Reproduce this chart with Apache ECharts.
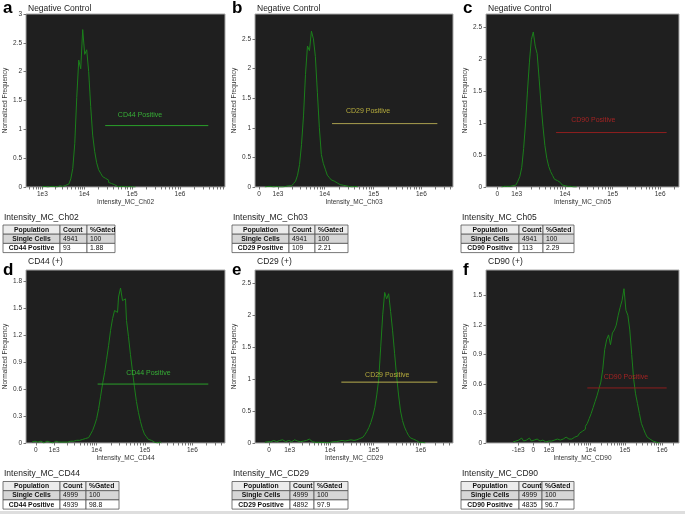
<!DOCTYPE html>
<html><head><meta charset="utf-8">
<script src="https://cdn.jsdelivr.net/npm/echarts@6/dist/echarts.min.js"></script>
<style>html,body{margin:0;padding:0;background:#fff}#c{width:685px;height:514px}</style>
</head><body><div id="c"></div>
<script>
// ---------------- DATA ----------------
const panelLetters = ['a','b','c','d','e','f'];
const panelTitles = ['Negative Control','Negative Control','Negative Control','CD44 (+)','CD29 (+)','CD90 (+)'];
const xAxisNames = ['Intensity_MC_Ch02','Intensity_MC_Ch03','Intensity_MC_Ch05','Intensity_MC_CD44','Intensity_MC_CD29','Intensity_MC_CD90'];

// x axis: display position (% of axis width) of each labelled tick
const xTickPosA = [8.2, 29.3, 53.4, 77.4];          const xTickLabA = ['1e3','1e4','1e5','1e6'];
const xTickPosB = [2.0, 11.6, 35.2, 59.9, 84.0];    const xTickLabB = ['0','1e3','1e4','1e5','1e6'];
const xTickPosC = [5.9, 15.9, 40.9, 65.6, 90.2];    const xTickLabC = ['0','1e3','1e4','1e5','1e6'];
const xTickPosD = [4.9, 14.2, 35.5, 59.8, 83.6];    const xTickLabD = ['0','1e3','1e4','1e5','1e6'];
const xTickPosE = [7.1, 17.5, 38.0, 59.9, 83.7];    const xTickLabE = ['0','1e3','1e4','1e5','1e6'];
const xTickPosF = [16.7, 24.5, 32.6, 54.2, 72.0, 91.3]; const xTickLabF = ['-1e3','0','1e3','1e4','1e5','1e6'];

// y axis ticks
const yTicksA = [0,0.5,1,1.5,2,2.5,3];
const yTicksB = [0,0.5,1,1.5,2,2.5];
const yTicksC = [0,0.5,1,1.5,2,2.5];
const yTicksD = [0,0.3,0.6,0.9,1.2,1.5,1.8];
const yTicksE = [0,0.5,1,1.5,2,2.5];
const yTicksF = [0,0.3,0.6,0.9,1.2,1.5];
const yMaxes = [3, 2.92, 2.7, 1.92, 2.7, 1.76];

// histograms: first bin position (display %), 1 unit per bin, normalized frequency
const histStartA = 8;
const histA = [0,0.01,0,0,0.01,0,0.01,0,0.01,0.02,0.01,
  0.02,0.03,0.05,0.08,0.14,0.32,0.75,1.55,2.2,2.05,2.73,2.3,2.38,2.0,1.4,0.9,0.62,0.42,0.3,0.24,0.18,0.15,0.12,0.08,0.06,0.04,0.03,0.01,
  0.01,0,0.01,0,0,0.01,0,0,0];
const histStartB = 5;
const histB = [0,0.01,0,0.01,0,0,0.01,0,0.01,0,0.01,0.01,0.02,
  0.02,0.04,0.06,0.1,0.2,0.38,0.72,1.2,1.9,2.38,2.3,2.63,2.5,2.2,1.6,1.0,0.55,0.4,0.3,0.2,0.16,0.12,0.1,0.07,0.05,0.04,0.03,0.02,0.02,0.01,0.01,
  0,0.01,0,0];
const histStartC = 8;
const histC = [0,0.01,0,0.01,0.01,
  0.01,0.02,0.03,0.05,0.09,0.16,0.3,0.6,1.0,1.5,1.95,2.3,2.42,2.2,2.08,1.7,1.3,0.95,0.65,0.45,0.32,0.24,0.18,0.12,0.1,0.07,0.05,0.03,0.02,0.01,0.01,
  0.01,0,0,0];
const histStartD = 3;
const histD = [0.01,0.02,0,0.01,0.02,0.01,0,0.02,0.01,0.01,0,0.01,0.02,0.01,0,0.01,0.01,0,0.01,0.02,0.01,0.02,0.03,0.02,0.03,0.04,0.05,
  0.05,0.06,0.08,0.1,0.14,0.2,0.27,0.38,0.52,0.66,0.78,0.93,1.08,1.25,1.38,1.47,1.45,1.62,1.72,1.58,1.6,1.36,1.18,0.98,0.8,0.62,0.46,0.34,0.24,0.16,0.1,0.07,0.04,0.03,0.01,
  0.01,0,0.01,0];
const histStartE = 5;
const histE = [0.01,0.02,0.03,0.02,0.04,0.03,0.02,0.04,0.03,0.05,0.02,0.03,0.04,0.02,0.03,0.05,0.03,0.04,0.02,0.03,0.05,0.04,0.06,0.03,0.02,0.01,0.02,0.01,0.01,0,0.01,0,0.01,0.01,0.02,0.01,0.02,0.03,0.02,0.04,0.03,0.05,0.04,0.05,0.06,
  0.04,0.05,0.06,0.07,0.09,0.1,0.13,0.18,0.24,0.32,0.42,0.55,0.75,1.0,1.5,2.0,2.35,2.25,2.33,2.05,1.75,1.4,1.05,0.75,0.5,0.35,0.25,0.18,0.12,0.08,0.06,0.04,0.02,0.01,
  0.01,0,0];
const histStartF = 14;
const histF = [0.01,0.02,0.01,0.03,0.05,0.04,0.02,0.03,0.05,0.04,0.02,0.03,0.04,0.05,0.02,0.03,0.02,0.01,0.02,0.01,0.02,0.03,0.02,0.04,0.03,0.05,0.04,0.06,0.05,0.04,
  0.04,0.05,0.06,0.07,0.08,0.1,0.12,0.14,0.17,0.2,0.25,0.3,0.36,0.42,0.48,0.55,0.62,0.75,0.95,1.05,1.1,1.0,1.12,1.15,1.2,1.3,1.38,1.45,1.57,1.35,1.3,1.15,0.9,0.65,0.5,0.4,0.3,0.2,0.15,0.1,0.06,0.04,0.02,0.01,
  0.01,0,0];

// gates
const gateNames = ['CD44 Positive','CD29 Positive','CD90 Positive','CD44 Positive','CD29 Positive','CD90 Positive'];
const gateStart = [39.8, 38.9, 36.3, 36.0, 43.6, 52.5];
const gateEnd   = [91.6, 92.1, 93.6, 91.6, 92.1, 93.6];
const gateLevel = [1.065, 1.07, 0.85, 0.654, 0.95, 0.56];

// tables
const tableTitles = ['Intensity_MC_Ch02','Intensity_MC_Ch03','Intensity_MC_Ch05','Intensity_MC_CD44','Intensity_MC_CD29','Intensity_MC_CD90'];
const tableHeader = ['Population','Count','%Gated'];
const tableRowNames = ['Single Cells','CD44 Positive','Single Cells','CD29 Positive','Single Cells','CD90 Positive',
                       'Single Cells','CD44 Positive','Single Cells','CD29 Positive','Single Cells','CD90 Positive'];
const tableCounts = ['4941','93','4941','109','4941','113','4999','4939','4999','4892','4999','4835'];
const tableGated  = ['100','1.88','100','2.21','100','2.29','100','98.8','100','97.9','100','96.7'];

// ---------------- LAYOUT ----------------
const FONT = 'Liberation Sans, Arial, sans-serif';
const grids = [
  {left:26, top:14, width:199, height:173},
  {left:255, top:14, width:198, height:173},
  {left:486, top:14, width:193, height:173},
  {left:26, top:270, width:199, height:173},
  {left:255, top:270, width:198, height:173},
  {left:486, top:270, width:193, height:173}
];
const gateColors = [
  {line:'#2a9f2a', text:'#3cd03c'},
  {line:'#a89e4e', text:'#d8cc44'},
  {line:'#8e1e1e', text:'#c42424'},
  {line:'#2a9f2a', text:'#3cd03c'},
  {line:'#b8ae4e', text:'#d8cc44'},
  {line:'#8e1e1e', text:'#c42424'}
];
const gateLabelPos = [[57.3,1.24],[57.1,1.28],[55.6,1.04],[61.5,0.78],[66.8,1.06],[72.5,0.67]];
const tableCols = [[3,60,87,115],[232,289,315,348],[461,519,543,574],[3,60,86,119],[232,290,314,348],[461,519,542,574]];
const tableTop = [225,225,225,481.5,481.5,481.5];
const rowH = 9.2;

const xPos = [xTickPosA,xTickPosB,xTickPosC,xTickPosD,xTickPosE,xTickPosF];
const xLab = [xTickLabA,xTickLabB,xTickLabC,xTickLabD,xTickLabE,xTickLabF];
const yTicks = [yTicksA,yTicksB,yTicksC,yTicksD,yTicksE,yTicksF];
const hists = [histA,histB,histC,histD,histE,histF];
const histStarts = [histStartA,histStartB,histStartC,histStartD,histStartE,histStartF];

// minor tick marks between decades (log spacing inside each decade)
function tickMarks(pos, lab) {
  const out = pos.slice();
  const dec = [];
  for (let i = 0; i < pos.length; i++) if (/^1e\d$/.test(lab[i])) dec.push(pos[i]);
  const w = dec.length > 1 ? dec[dec.length-1] - dec[dec.length-2] : 24;
  const ext = dec.slice();
  ext.push(dec[dec.length-1] + w);
  for (let i = 0; i < ext.length - 1; i++) {
    const d = ext[i+1] - ext[i];
    for (let m = 2; m <= 9; m++) {
      const p = ext[i] + Math.log10(m) * d;
      if (p < 100) out.push(+p.toFixed(2));
    }
  }
  if (lab[0] === '1e3') {
    const d = dec[1] - dec[0];
    for (let m = 2; m <= 9; m++) {
      const p = dec[0] - d + Math.log10(m) * d;
      if (p > 0) out.push(+p.toFixed(2));
    }
  }
  return out.sort((a,b)=>a-b);
}

const option = {
  animation: false,
  backgroundColor: '#ffffff',
  textStyle: {fontFamily: FONT},
  grid: [], xAxis: [], yAxis: [], series: [], graphic: []
};

for (let k = 0; k < 6; k++) {
  const g = grids[k];
  option.grid.push(Object.assign({show:true, backgroundColor:'#1f1f1f', borderColor:'#a8a8a8', borderWidth:1}, g));
  const pos = xPos[k], lab = xLab[k];
  option.xAxis.push({
    type:'value', gridIndex:k, min:0, max:100,
    name: xAxisNames[k], nameLocation:'middle', nameGap:11,
    nameTextStyle:{fontSize:6.5, color:'#333', fontFamily:FONT},
    axisLine:{show:false},
    splitLine:{show:false},
    axisTick:{show:true, length:2.5, customValues: tickMarks(pos, lab), lineStyle:{color:'#555', width:0.8}},
    axisLabel:{show:true, fontSize:6.5, color:'#333', margin:4, fontFamily:FONT, customValues: pos,
      formatter: v => { const i = pos.findIndex(p => Math.abs(p - v) < 1e-6); return i >= 0 ? lab[i] : ''; }}
  });
  option.yAxis.push({
    type:'value', gridIndex:k, min:0, max:yMaxes[k],
    name:'Normalized Frequency', nameLocation:'middle', nameGap:16, nameRotate:90,
    nameTextStyle:{fontSize:6.5, color:'#333', fontFamily:FONT},
    axisLine:{show:false}, splitLine:{show:false},
    axisTick:{show:true, length:2.5, customValues: yTicks[k], lineStyle:{color:'#555', width:0.8}},
    axisLabel:{show:true, fontSize:6.5, color:'#333', margin:4, fontFamily:FONT, customValues: yTicks[k]}
  });
  const h = hists[k], s0 = histStarts[k];
  option.series.push({
    type:'line', xAxisIndex:k, yAxisIndex:k, step:'middle', symbol:'none',
    data: h.map((v,i) => [s0 + i, v]),
    lineStyle:{color:'#1b7f1b', width:1}, z:2
  });
  option.series.push({
    type:'line', xAxisIndex:k, yAxisIndex:k, symbol:'none',
    data:[[gateStart[k], gateLevel[k]],[gateEnd[k], gateLevel[k]]],
    lineStyle:{color:gateColors[k].line, width:1}, z:3
  });
  option.series.push({
    type:'scatter', xAxisIndex:k, yAxisIndex:k, symbolSize:0,
    data:[gateLabelPos[k]], z:4, silent:true,
    label:{show:true, position:'inside', formatter: gateNames[k], color:gateColors[k].text, fontSize:7, fontFamily:FONT}
  });

  // letters and titles
  option.graphic.push({type:'text', left: g.left - 23, top: k<3 ? g.top - 14 : g.top - 8,
    style:{text: panelLetters[k], font:'bold 17px ' + FONT, fill:'#000'}});
  option.graphic.push({type:'text', left: g.left + 2, top: g.top - (k<3?10:13),
    style:{text: panelTitles[k], font:'8.5px ' + FONT, fill:'#222'}});

  // table
  const cols = tableCols[k], t0 = tableTop[k];
  option.graphic.push({type:'text', left: cols[0] + 1, top: t0 - 12,
    style:{text: tableTitles[k], font:'8.5px ' + FONT, fill:'#222'}});
  const rows = [
    tableHeader,
    [tableRowNames[2*k], tableCounts[2*k], tableGated[2*k]],
    [tableRowNames[2*k+1], tableCounts[2*k+1], tableGated[2*k+1]]
  ];
  const bgs = ['#ececec','#d6d6d6','#ffffff'];
  for (let r = 0; r < 3; r++) {
    const y = t0 + r * rowH;
    for (let c = 0; c < 3; c++) {
      option.graphic.push({type:'rect', shape:{x:cols[c], y:y, width:cols[c+1]-cols[c], height:rowH},
        style:{fill:bgs[r], stroke:'#555', lineWidth:0.8}});
      const bold = (r === 0 || c === 0);
      const centered = (c === 0);
      option.graphic.push({type:'text',
        x: centered ? (cols[0]+cols[1])/2 : cols[c] + 3, y: y + rowH/2 + 0.3,
        style:{text: rows[r][c], font:(bold?'bold ':'') + '6.8px ' + FONT, fill:'#111',
          textAlign: centered ? 'center' : 'left', textVerticalAlign:'middle'}});
    }
  }
}
option.graphic.push({type:'rect', shape:{x:0, y:511, width:685, height:3}, style:{fill:'#dedede'}});

const chart = echarts.init(document.getElementById('c'), null, {renderer:'canvas'});
chart.setOption(option);
</script></body></html>
